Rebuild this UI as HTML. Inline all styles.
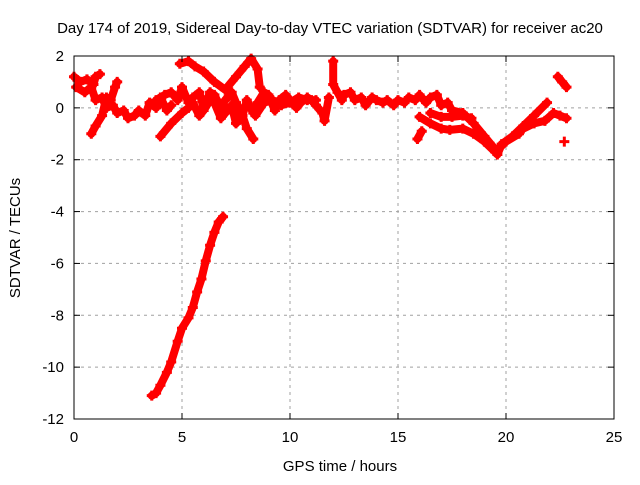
<!DOCTYPE html>
<html><head><meta charset="utf-8"><style>
body{margin:0;background:#fff}
svg{font-family:"Liberation Sans",sans-serif}
</style></head><body>
<svg id="chart" width="640" height="480">
<text x="330" y="33" font-size="15" text-anchor="middle">Day 174 of 2019, Sidereal Day-to-day VTEC variation (SDTVAR) for receiver ac20</text>
<text x="340" y="471" font-size="15" text-anchor="middle">GPS time / hours</text>
<text x="20" y="238" font-size="15" text-anchor="middle" transform="rotate(-90 20 238)">SDTVAR / TECUs</text>
<g id="grid"></g><g id="marks"></g><g id="axes"></g>
</svg>
<script>
const xTicks=[0,5,10,15,20,25];
const yTicks=[2,0,-2,-4,-6,-8,-10,-12];
const trackSteep=[[3.6,-11.1],[3.8,-11.0],[4.0,-10.7],[4.3,-10.2],[4.5,-9.8],[4.8,-9.0],[5.0,-8.5],[5.3,-8.1],[5.5,-7.7],[5.7,-7.1],[5.9,-6.6],[6.1,-5.9],[6.3,-5.3],[6.5,-4.8],[6.7,-4.4],[6.9,-4.2]];
const trackUpper=[[4.9,1.7],[5.3,1.8],[5.6,1.6],[6.0,1.4],[6.5,1.0],[7.0,0.7],[7.5,1.2],[7.9,1.6],[8.2,1.9],[8.5,1.5],[8.6,0.8]];
const trackA=[[0,1.2],[0.3,1.0],[0.6,1.1],[0.9,0.9],[1.0,1.2],[1.2,1.3]];
const trackB=[[0.1,0.8],[0.5,0.6],[0.8,0.8],[1.0,0.3],[1.3,0.4],[1.5,0.0],[1.8,0.1],[2.0,-0.2],[2.3,-0.1],[2.5,-0.4],[2.8,-0.3],[3.0,-0.1],[3.3,-0.3],[3.5,0.2],[3.8,0.0],[4.0,0.4],[4.3,-0.1],[4.5,0.1]];
const trackC=[[0.8,-1.0],[1.0,-0.7],[1.3,-0.3],[1.5,0.4],[1.7,0.3],[1.9,0.8],[2.0,1.0]];
const trackD=[[4.0,-1.1],[4.5,-0.6],[5.0,-0.2],[5.3,0.0],[5.5,0.2],[5.8,-0.3],[6.0,-0.1],[6.3,0.3],[6.5,0.2],[6.8,-0.4],[7.0,-0.2],[7.3,0.1],[7.5,-0.6],[7.8,-0.3],[8.0,-0.8],[8.3,-1.2]];
const trackE=[[3.8,0.3],[4.2,0.5],[4.5,0.6],[4.8,0.3],[5.0,0.8],[5.3,0.2],[5.5,0.4],[5.8,0.6],[6.0,0.0],[6.3,0.6],[6.5,0.5],[6.8,0.0],[7.0,0.3],[7.3,0.6],[7.5,0.2],[7.8,-0.3],[8.0,0.3],[8.3,-0.2],[8.5,0.2],[8.8,0.6],[9.0,0.5],[9.3,-0.1],[9.5,0.3],[9.8,0.5],[10.0,0.3],[10.3,0.0],[10.5,0.2],[10.8,0.4],[11.0,0.3],[11.2,0.1],[11.5,-0.2],[11.6,-0.5],[11.8,0.4]];
const trackM=[[8.4,-0.3],[8.8,0.2],[9.2,0.3],[9.6,0.1],[10.0,0.2],[10.4,0.4],[10.8,0.3],[11.2,0.3]];
const trackF=[[12.0,1.8],[12.0,0.9],[12.2,0.6],[12.4,0.3],[12.5,0.5],[12.8,0.6],[13.0,0.3],[13.3,0.4],[13.5,0.1],[13.8,0.4],[14.0,0.3],[14.3,0.2],[14.5,0.3],[14.8,0.1],[15.0,0.3],[15.3,0.2],[15.5,0.4],[15.8,0.3],[16.0,0.5],[16.3,0.2],[16.5,0.4],[16.8,0.5],[17.0,0.1],[17.3,0.2],[17.5,-0.1],[18.0,-0.2],[18.5,-0.6],[19.0,-1.1],[19.4,-1.5],[19.6,-1.8],[19.8,-1.4],[20.3,-1.1],[20.8,-0.7],[21.3,-0.3],[21.9,0.2]];
const trackG=[[16.0,-0.35],[16.5,-0.6],[17.0,-0.8],[17.4,-0.85],[18.0,-0.8],[18.5,-1.0],[19.0,-1.3],[19.5,-1.7],[20.0,-1.3],[20.6,-1.0]];
const trackH=[[16.5,-0.2],[17.0,-0.35],[17.5,-0.35],[18.0,-0.3],[18.4,-0.4]];
const trackI=[[20.5,-1.0],[20.8,-0.8],[21.3,-0.6],[21.8,-0.5],[22.2,-0.2],[22.5,-0.3],[22.8,-0.4]];
const trackJ=[[22.4,1.2],[22.6,1.0],[22.8,0.8]];
const trackK=[[15.9,-1.2],[16.1,-0.9]];
const trackL=[[22.7,-1.3]];
const tracks=[trackSteep,trackUpper,trackA,trackB,trackC,trackD,trackE,trackM,trackF,trackG,trackH,trackI,trackJ,trackK,trackL];
const L=74,R=614,T=56,B=419;
const sx=v=>L+(v-0)/25*(R-L);
const sy=v=>T+(2-v)/14*(B-T);
const NS="http://www.w3.org/2000/svg";
const g=document.getElementById('grid'),m=document.getElementById('marks'),a=document.getElementById('axes');
function mk(t,at,p){const e=document.createElementNS(NS,t);for(const k in at)e.setAttribute(k,at[k]);p.appendChild(e);return e;}
xTicks.forEach(v=>{
 if(v>0&&v<25){const l=mk('line',{x1:sx(v),x2:sx(v),y1:T,y2:B,stroke:'#a0a0a0','stroke-dasharray':'3,4'},g);
 
 }
 mk('line',{x1:sx(v),x2:sx(v),y1:B,y2:B-6,stroke:'#000'},a);
 mk('line',{x1:sx(v),x2:sx(v),y1:T,y2:T+6,stroke:'#000'},a);
 const t=mk('text',{x:sx(v),y:B+23,'font-size':15,'text-anchor':'middle'},a);t.textContent=v;
 
 
});
yTicks.forEach(v=>{
 if(v<2&&v>-12){const l=mk('line',{x1:L,x2:R,y1:sy(v),y2:sy(v),stroke:'#a0a0a0','stroke-dasharray':'3,4'},g);
 
 }
 mk('line',{x1:L,x2:L+6,y1:sy(v),y2:sy(v),stroke:'#000'},a);
 mk('line',{x1:R,x2:R-6,y1:sy(v),y2:sy(v),stroke:'#000'},a);
 const t=mk('text',{x:L-10,y:sy(v)+5,'font-size':15,'text-anchor':'end'},a);t.textContent=v;
 
 
});
const fr=mk('rect',{x:L,y:T,width:R-L,height:B-T,fill:'none',stroke:'#000','stroke-width':1},a);


tracks.forEach(tr=>{
 const pl=mk('polyline',{points:tr.map(p=>sx(p[0])+','+sy(p[1])).join(' '),fill:'none',stroke:'#f00','stroke-width':8,'stroke-linejoin':'round','stroke-linecap':'round'},m);
 
 
 tr.forEach(p=>{
  const x=sx(p[0]),y=sy(p[1]);
  const pt=mk('path',{d:`M${x-5},${y}H${x+5}M${x},${y-5}V${y+5}`,stroke:'#f00','stroke-width':3},m);
  
  
 });
});
</script>
</body></html>
